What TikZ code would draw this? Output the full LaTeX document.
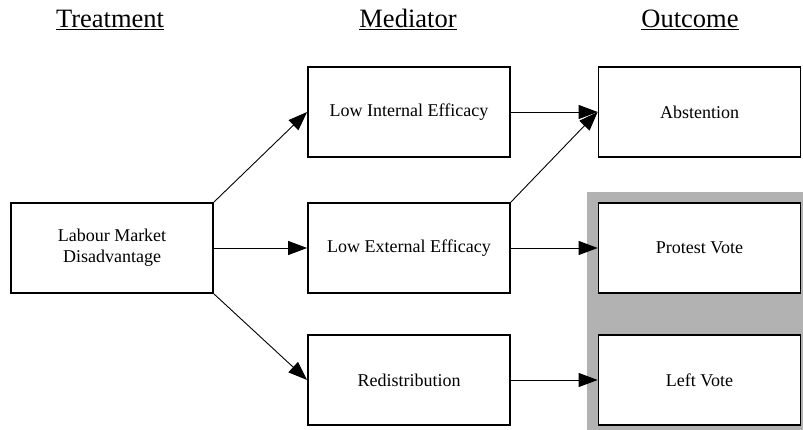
\documentclass[tikz,border=0pt]{standalone}
\usepackage{fontspec}
\setmainfont{Liberation Serif}
\usetikzlibrary{arrows.meta}

\begin{document}
\begin{tikzpicture}[x=1pt,y=-1pt,
    box/.style={draw,line width=1.8pt,fill=white,minimum width=202pt,minimum height=90pt,
                align=center,font=\fontsize{18}{21}\selectfont},
    head/.style={anchor=base,font=\fontsize{26.5}{30}\selectfont},
    link/.style={line width=0.9pt,-{Triangle[length=19pt,width=14pt]}}]

    \useasboundingbox (0,0) rectangle (803,430);
    % shaded outcome area
    \fill[gray!60] (587,192) rectangle (803,430);

    % column heads
    \node[head] (treat) at (110,28) {\underline{Treatment}};
    \node[head] (medi) at (408,28) {\underline{Mediator}};
    \node[head] (outc) at (690,28) {\underline{Outcome}};

    % boxes
    \node[box] (lab) at (112,248) {Labour Market\\Disadvantage};
    \node[box] (lie) at (409,112) {Low Internal Efficacy};
    \node[box] (lee) at (409,248) {Low External Efficacy};
    \node[box] (red) at (409,380) {Redistribution};
    \node[box] (abs) at (699.5,112) {Abstention};
    \node[box] (prot) at (699.5,248) {Protest Vote};
    \node[box] (left) at (699.5,380) {Left Vote};

    % paths
    \draw[link] (lab.north east) -- (lie.west);
    \draw[link] (lab.east) -- (lee.west);
    \draw[link] (lab.south east) -- (red.west);
    \draw[link] (lie.east) -- (abs.west);
    \draw[link] (lee.north east) -- (abs.west);
    \draw[link] (lee.east) -- (prot.west);
    \draw[link] (red.east) -- (left.west);

\end{tikzpicture}
\end{document}
